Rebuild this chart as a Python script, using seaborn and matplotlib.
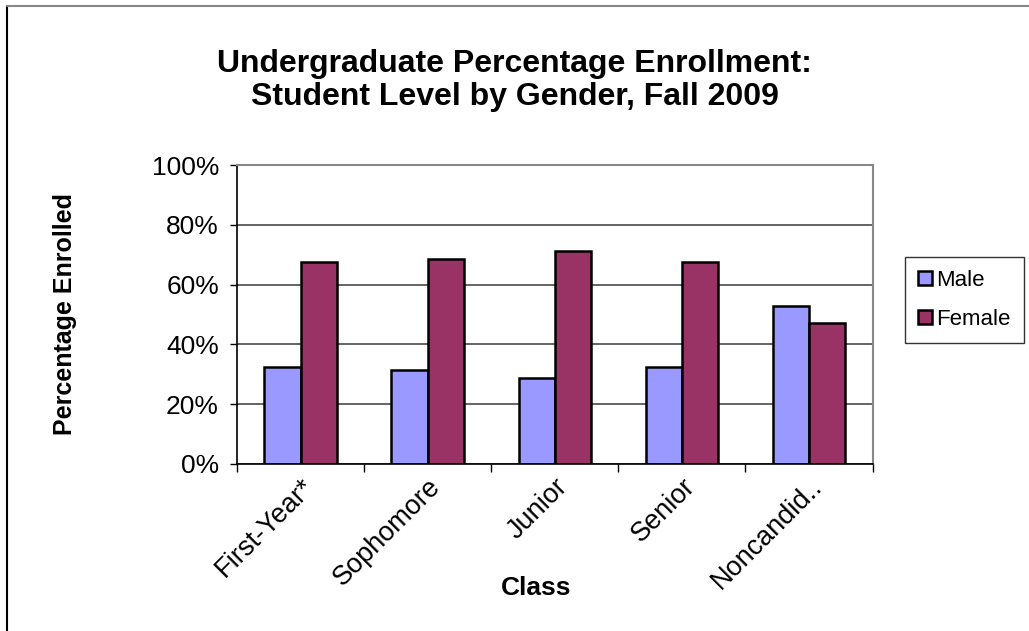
import pandas as pd
import numpy as np
import matplotlib
matplotlib.use('Agg')
import matplotlib.pyplot as plt
import seaborn as sns
from matplotlib.lines import Line2D
from matplotlib.ticker import PercentFormatter

# DATA
classes = ['First-Year*', 'Sophomore', 'Junior', 'Senior', 'Noncandid..']
male_pct = [32.5, 31.6, 28.9, 32.3, 52.9]
female_pct = [67.5, 68.4, 71.1, 67.7, 47.1]
genders = ['Male', 'Female']
colors = ['#9999FF', '#993366']

df = pd.DataFrame({
    'Class': classes * 2,
    'Gender': ['Male'] * len(classes) + ['Female'] * len(classes),
    'Pct': male_pct + female_pct,
})

sns.set_style('white')
plt.rcParams['font.family'] = ['Liberation Sans', 'DejaVu Sans']
plt.rcParams['text.color'] = 'black'
plt.rcParams['axes.labelcolor'] = 'black'
plt.rcParams['xtick.color'] = 'black'
plt.rcParams['ytick.color'] = 'black'

fig = plt.figure(figsize=(10.29, 6.31), dpi=100)
ax = fig.add_axes([0.2303, 0.2647, 0.6177, 0.4738])

sns.barplot(data=df, x='Class', y='Pct', hue='Gender', hue_order=genders,
            palette=colors, width=0.57, edgecolor='black', linewidth=1.8,
            saturation=1, ax=ax)

ax.set_ylim(0, 100)
ax.set_xlim(-0.5, 4.5)
ax.set_yticks(range(0, 101, 20))
ax.yaxis.set_major_formatter(PercentFormatter(decimals=0))
ax.tick_params(axis='y', labelsize=19, length=5, width=1,
               direction='out', left=True, pad=8)
ax.grid(axis='y', color='#4a4a4a', linewidth=1.2)
ax.set_axisbelow(True)

# category ticks between groups
ax.set_xticks(np.arange(-0.5, 5, 1), minor=True)
ax.tick_params(axis='x', which='minor', length=6, width=1,
               direction='out', bottom=True)
ax.tick_params(axis='x', which='major', length=0, labelsize=19.5, pad=7)
plt.setp(ax.get_xticklabels(), rotation=45, ha='right', rotation_mode='anchor')

for side in ['top', 'right']:
    ax.spines[side].set_color('#888888')
    ax.spines[side].set_linewidth(1.5)
ax.spines['left'].set_color('black')
ax.spines['bottom'].set_color('black')
ax.spines['left'].set_linewidth(1.2)
ax.spines['bottom'].set_linewidth(1.2)

ax.set_xlabel('Class', fontsize=19, fontweight='bold')
ax.xaxis.set_label_coords(0.47, -0.415)
ax.xaxis.label.set_va('center')
ax.set_ylabel('Percentage Enrolled', fontsize=18, fontweight='bold')
ax.yaxis.set_label_coords(-0.27, 0.5)
ax.yaxis.label.set_va('center')

fig.suptitle('Undergraduate Percentage Enrollment:\nStudent Level by Gender, Fall 2009',
             fontsize=23, fontweight='bold', y=0.872, va='center', linespacing=1.15)

handles, labels = ax.get_legend_handles_labels()
ax.legend_.remove()
leg = fig.legend(handles, labels, loc='center left',
                 bbox_to_anchor=(0.8795, 0.525), frameon=True, fancybox=False,
                 fontsize=16, handlelength=0.6, handleheight=0.6,
                 handletextpad=0.2, labelspacing=0.8, borderpad=0.6,
                 borderaxespad=0)
leg.get_frame().set_edgecolor('black')
leg.get_frame().set_linewidth(1)

# chart area border (left and top only are visible)
fig.add_artist(Line2D([0.0068, 0.0068], [0, 0.99], transform=fig.transFigure,
                      color='black', linewidth=1.5))
fig.add_artist(Line2D([0.0068, 1], [0.99, 0.99], transform=fig.transFigure,
                      color='#888888', linewidth=1.5))

fig.savefig('out.png', dpi=100)
